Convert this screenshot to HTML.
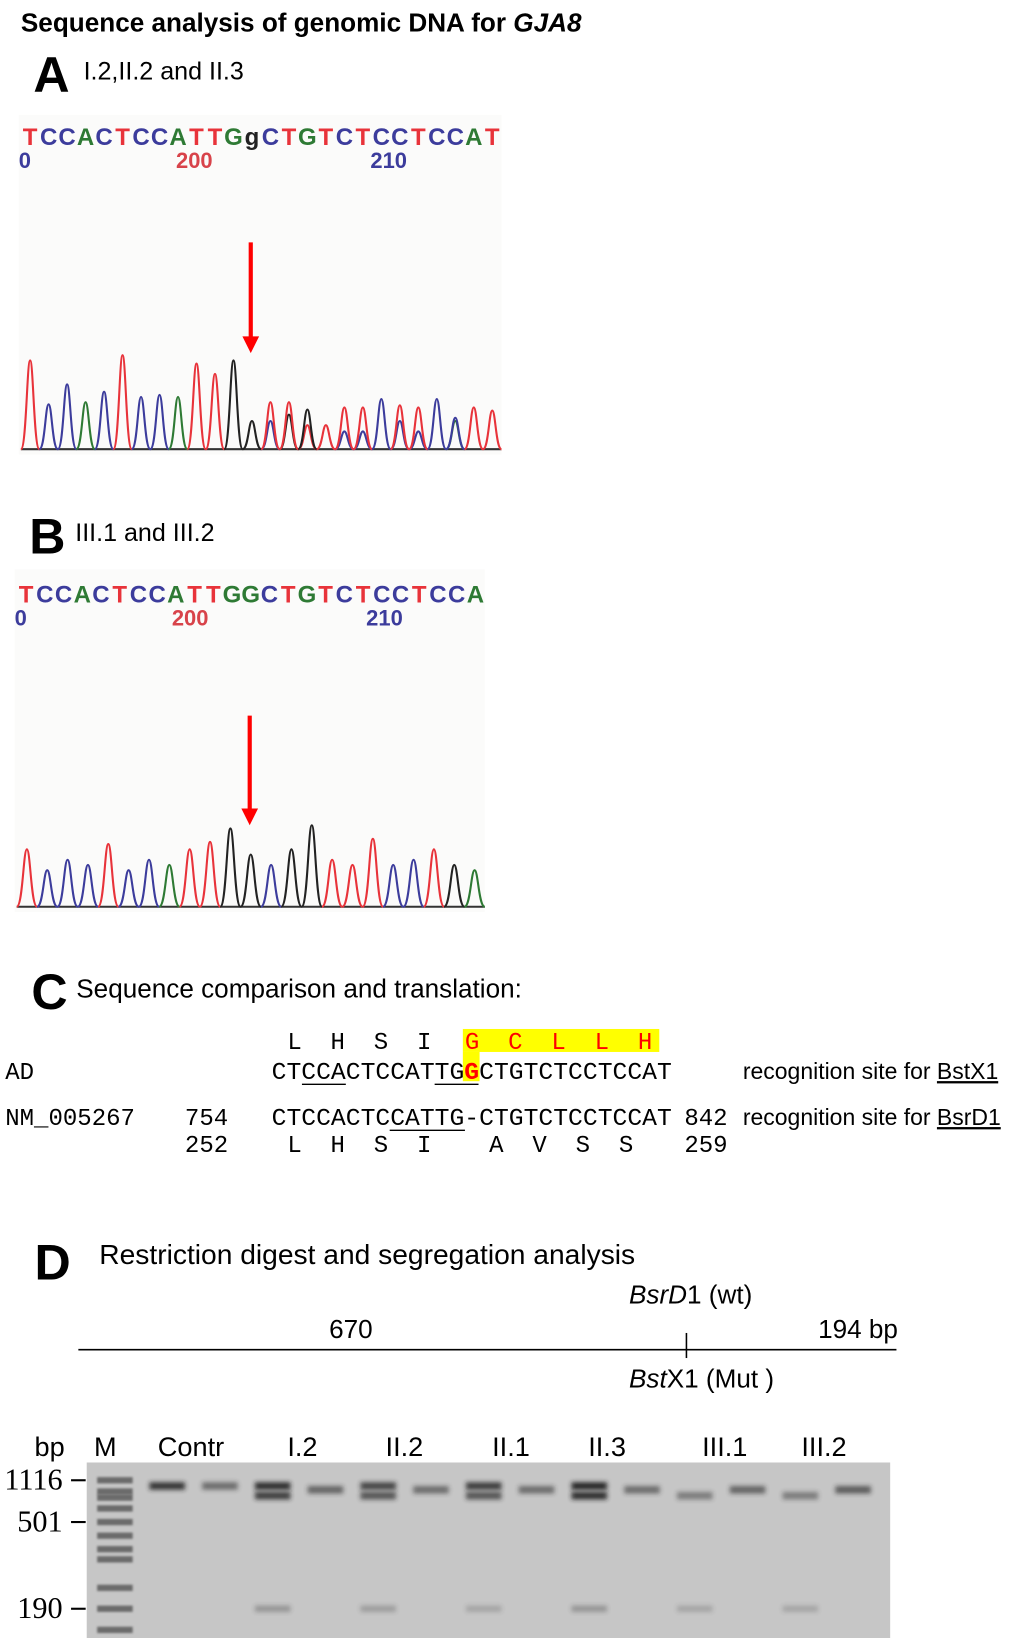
<!DOCTYPE html>
<html><head><meta charset="utf-8"><style>
html,body{margin:0;padding:0;background:#fff;}
svg{display:block;font-family:"Liberation Sans",Arial,sans-serif;}
.mono{font-family:"Liberation Mono","Courier New",monospace;}
.ser{font-family:"Liberation Serif",serif;}
</style></head><body>
<svg id="fig" width="1026" height="1638" viewBox="0 0 982 1568" preserveAspectRatio="none" xmlns="http://www.w3.org/2000/svg">
<defs>
<filter id="blur" x="-50%" y="-300%" width="200%" height="700%"><feGaussianBlur stdDeviation="2.2"/></filter>
<filter id="blur2" x="-20%" y="-200%" width="140%" height="500%"><feGaussianBlur stdDeviation="1"/></filter>
</defs>
<text x="20" y="30" font-size="25" font-weight="bold">Sequence analysis of genomic DNA for <tspan font-style="italic">GJA8</tspan></text>

<!-- A -->
<text x="32" y="88" font-size="48" font-weight="bold">A</text>
<text x="80" y="76" font-size="24">I.2,II.2 and II.3</text>
<rect x="18" y="110" width="462" height="325" fill="#fbfbfa"/>
<g id="chromA"></g>
<line x1="240" y1="232" x2="240" y2="324" stroke="#f00" stroke-width="4"/>
<polygon points="232,322 248,322 240,338" fill="#f00"/>

<!-- B -->
<text x="28" y="530" font-size="48" font-weight="bold">B</text>
<text x="72" y="518" font-size="24">III.1 and III.2</text>
<rect x="14" y="545" width="450" height="328" fill="#fbfbfa"/>
<g id="chromB"></g>
<line x1="239" y1="685" x2="239" y2="776" stroke="#f00" stroke-width="4"/>
<polygon points="231,774 247,774 239,790" fill="#f00"/>

<!-- C -->
<text x="30" y="966" font-size="48" font-weight="bold">C</text>
<text x="73" y="955" font-size="25">Sequence comparison and translation:</text>
<rect x="443" y="985" width="188" height="22" fill="#ffff00"/>
<rect x="443" y="1007" width="16" height="28" fill="#ffff00"/>
<g class="mono" font-size="23">
<text x="275" y="1004" xml:space="preserve">L  H  S  I</text>
<text x="445" y="1004" fill="#f00" xml:space="preserve">G  C  L  L  H</text>
<text x="5" y="1033">AD</text>
<text x="260" y="1033" textLength="383" lengthAdjust="spacingAndGlyphs">CTCCACTCCATTG<tspan fill="#f00" font-weight="bold">G</tspan>CTGTCTCCTCCAT</text>
<text x="5" y="1077">NM_005267</text>
<text x="177" y="1077">754</text>
<text x="260" y="1077" textLength="383" lengthAdjust="spacingAndGlyphs">CTCCACTCCATTG-CTGTCTCCTCCAT</text>
<text x="655" y="1077">842</text>
<text x="177" y="1103">252</text>
<text x="275" y="1103" xml:space="preserve">L  H  S  I    A  V  S  S</text>
<text x="655" y="1103">259</text>
</g>
<g stroke="#000" stroke-width="1.3">
<line x1="289" y1="1038" x2="331" y2="1038"/><line x1="416" y1="1038" x2="458" y2="1038"/>
<line x1="373" y1="1082" x2="445" y2="1082"/>
</g>
<text x="711" y="1033" font-size="22">recognition site for <tspan text-decoration="underline">BstX1</tspan></text>
<text x="711" y="1077" font-size="22">recognition site for <tspan text-decoration="underline">BsrD1</tspan></text>

<!-- D -->
<text x="33" y="1225" font-size="48" font-weight="bold">D</text>
<text x="95" y="1210" font-size="27">Restriction digest and segregation analysis</text>
<text x="602" y="1248" font-size="25"><tspan font-style="italic">BsrD</tspan>1 (wt)</text>
<text x="315" y="1281" font-size="25">670</text>
<text x="783" y="1281" font-size="25">194 bp</text>
<line x1="75" y1="1292" x2="858" y2="1292" stroke="#000" stroke-width="1.5"/>
<line x1="657" y1="1276" x2="657" y2="1300" stroke="#000" stroke-width="1.5"/>
<text x="602" y="1328" font-size="25"><tspan font-style="italic">Bst</tspan>X1 (Mut )</text>

<g font-size="26" id="lanelabels"></g>
<rect x="83" y="1400" width="769" height="168" fill="#c6c6c6"/>
<g id="gel"></g>
<g class="ser" font-size="29" id="markers"></g>
</svg>
<script>
// chromatogram A (index-based peaks)
const aColors = ['R','B','B','G','B','R','B','B','G','R','R','K','K','R','R','K','R','R','R','B','R','R','B','B','R','R'];
const aHeights = [85,43,62,45,55,90,50,52,50,82,72,85,27,45,45,38,23,40,40,48,42,40,48,30,40,37];
const a2Colors = ['','','','','','','','','','','','','','B','K','R','','B','B','','B','B','','G','',''];
const a2Heights = [0,0,0,0,0,0,0,0,0,0,0,0,0,27,33,23,0,17,17,0,27,17,0,27,0,0];
const aLetters = 'TCCACTCCATTGgCTGTCTCCTCCAT';
const aTicks = ['0','200','210'];
// chromatogram B
const bColors = ['R','B','B','B','R','B','B','G','R','R','K','K','B','K','K','R','R','R','B','B','R','K','G'];
const bHeights = [55,35,45,40,60,35,45,40,55,62,75,50,40,55,78,45,40,65,40,45,55,40,35];
const bLetters = 'TCCACTCCATTGGCTGTCTCCTCCA';
const bTicks = ['0','200','210'];
// gel
const laneLabels = ['bp','M','Contr','I.2','II.2','II.1','II.3','III.1','III.2'];
const markerLabels = ['1116','501','190'];
const markerSizes = [1116,501,190];
const laneUpper = [0.9,0.55,0.95,0,0.8,0,0.85,0,1,0,0,0,0,0];
const laneMid = [0,0,0,0.6,0,0.55,0,0.55,0,0.55,0,0.6,0,0.65];
const laneLower = [0,0,0.85,0,0.7,0,0.7,0,0.95,0,0.45,0,0.45,0];
const laneSmall = [0,0,0.3,0,0.25,0,0.2,0,0.3,0,0.2,0,0.2,0];

const NS='http://www.w3.org/2000/svg';
const col={R:'#e8333a',B:'#3c3c9c',G:'#2e7a34',K:'#222',T:'#e8333a',C:'#3c3c9c',A:'#2e7a34',g:'#222'};
function mk(t,a,p){const e=document.createElementNS(NS,t);for(const k in a)e.setAttribute(k,a[k]);p.appendChild(e);return e;}
function chrom(g,x0,x1,base,cs,hs,c2,h2,letters,ly,ticks,tickX,tickY){
  const n=cs.length,step=(x1-x0)/n;
  const xs=i=>x0+step*(i+0.5);
  mk('line',{x1:x0,y1:base,x2:x1,y2:base,stroke:'#333','stroke-width':2},g);
  function peak(i,c,h){
    const x=xs(i),w=step*0.5;
    const p=mk('path',{d:`M${x-w} ${base} C${x-w*0.4} ${base} ${x-w*0.35} ${base-h} ${x} ${base-h} C${x+w*0.35} ${base-h} ${x+w*0.4} ${base} ${x+w} ${base}`,fill:'none',stroke:col[c],'stroke-width':2},g);
    
    
  }
  for(let i=0;i<n;i++){if(c2&&c2[i])peak(i,c2[i],h2[i]);peak(i,cs[i],hs[i]);}
  const ls=(x1-x0)/letters.length;
  for(let i=0;i<letters.length;i++){
    const ch=letters[i];
    const t=mk('text',{x:x0+ls*(i+0.5),y:ly,'text-anchor':'middle','font-size':23,'font-weight':'bold',fill:col[ch]},g);
    
    
    t.textContent=ch;
  }
  ticks.forEach((tk,i)=>{const t=mk('text',{x:tickX[i],y:tickY,'text-anchor':i?'middle':'start','font-size':21,'font-weight':'bold',fill:i==1?'#d8434a':'#3c3c9c'},g);
    
    
    t.textContent=tk;});
}
chrom(document.getElementById('chromA'),20,480,430,aColors,aHeights,a2Colors,a2Heights,aLetters,139,aTicks,[18,186,372],161);
chrom(document.getElementById('chromB'),16,464,868,bColors,bHeights,null,null,bLetters,577,bTicks,[14,182,368],599);

const ll=document.getElementById('lanelabels');
const lx=[33,90,151,275,369,471,563,672,767];
laneLabels.forEach((s,i)=>{const t=mk('text',{x:lx[i],y:1394},ll);
  
  
  t.textContent=s;});
// gel bands: y from log size (piecewise through marker positions)
const yOf=s=>{const L=Math.log(s);
  if(s>=501) return 1417+(Math.log(1116)-L)/(Math.log(1116)-Math.log(501))*40;
  return 1457+(Math.log(501)-L)/(Math.log(501)-Math.log(190))*83;};
const gel=document.getElementById('gel');
const mg=document.getElementById('markers');
markerLabels.forEach((s,i)=>{const y=yOf(markerSizes[i]);
  const t=mk('text',{x:60,y:y+9,'text-anchor':'end'},mg);
  
  
  t.textContent=s;
  mk('line',{x1:68,y1:y,x2:82,y2:y,stroke:'#000','stroke-width':2},mg);});
// marker ladder
[1116,900,800,650,501,430,370,330,240,190,150].forEach(s=>{
  const r=mk('rect',{x:93,y:yOf(s)-3,width:34,height:6,fill:'#444',opacity:0.7,filter:'url(#blur2)'},gel);
  
  
});
const cx0=160,cstep=50.5;
function band(i,y,op,h){if(!op)return;const r=mk('rect',{x:cx0+i*cstep-17,y:y-h/2,width:34,height:h,fill:'#202020',opacity:op,filter:'url(#blur)'},gel);
  
  }
for(let i=0;i<14;i++){
  band(i,yOf(1000),laneUpper[i],7);
  band(i,yOf(930),laneMid[i],7);
  band(i,yOf(830),laneLower[i],7);
  band(i,yOf(190),laneSmall[i],6);
}
</script>
</body></html>
